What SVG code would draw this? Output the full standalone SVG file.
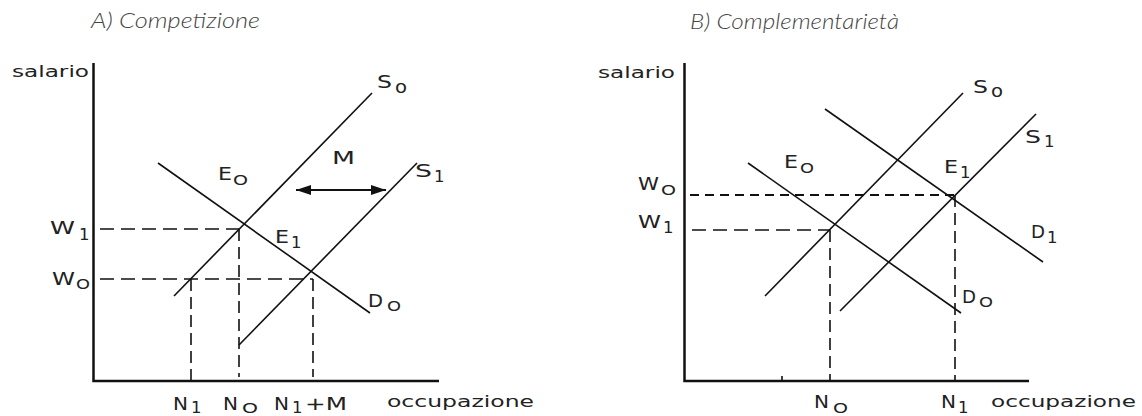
<svg xmlns="http://www.w3.org/2000/svg" width="1142" height="416" viewBox="0 0 1142 416">
<style>
.title{font-family:Lato,"Open Sans",sans-serif;font-weight:300;font-style:italic;font-size:22px;fill:#444}
.t{font-family:"DejaVu Sans",sans-serif;fill:#222}
.m{font-size:18px}
.o{font-size:14.5px}
.d{font-size:16.5px}
.w{font-size:16.5px}
.ax{stroke:#111;stroke-width:2.5;fill:none}
.cv{stroke:#111;stroke-width:1.6;fill:none}
.dsh{stroke:#111;stroke-width:1.6;fill:none;stroke-dasharray:14 7}
.dshv{stroke:#111;stroke-width:1.6;fill:none;stroke-dasharray:12 6}
.dsh2{stroke:#111;stroke-width:1.8;fill:none;stroke-dasharray:9 6}
</style>
<defs>
<marker id="ah" markerUnits="userSpaceOnUse" markerWidth="16" markerHeight="11" refX="15" refY="5" orient="auto-start-reverse">
<path d="M0,0 L15,5 L0,10 z" fill="#111"/>
</marker>
</defs>

<g id="panel-a">
<text class="title" x="91" y="28" textLength="169" lengthAdjust="spacingAndGlyphs">A) Competizione</text>
<g id="a-axes">
<path class="ax" d="M93.5 63 V381 H439"/>
</g>
<g id="a-connectors">
<path class="cv" d="M158 163 L370 313"/>
<path class="cv" d="M174 296 L372 93"/>
<path class="cv" d="M239 345 L417 163"/>
<path class="dsh" d="M100 229 H239"/>
<path class="dsh" d="M100 279 H313"/>
<path class="dshv" d="M191 279 V381"/>
<path class="dshv" d="M239 229 V377"/>
<path class="dshv" d="M313 279 V377"/>
<path d="M296 190 H386" stroke="#111" stroke-width="2" marker-start="url(#ah)" marker-end="url(#ah)"/>
</g>
<g id="a-labels">
<text class="t w" x="12" y="77" textLength="77" lengthAdjust="spacingAndGlyphs">salario</text>
<text class="t w" x="387" y="407" textLength="147" lengthAdjust="spacingAndGlyphs">occupazione</text>
<text class="t m" x="377" y="88" textLength="15" lengthAdjust="spacingAndGlyphs">S</text>
<text class="t m" x="395" y="93" textLength="12" lengthAdjust="spacingAndGlyphs">o</text>
<text class="t m" x="332" y="164" textLength="23" lengthAdjust="spacingAndGlyphs">M</text>
<text class="t m" x="415" y="177" textLength="17" lengthAdjust="spacingAndGlyphs">S</text>
<text class="t d" x="434" y="182">1</text>
<text class="t m" x="218" y="180" textLength="14" lengthAdjust="spacingAndGlyphs">E</text>
<text class="t o" x="233" y="185" textLength="15" lengthAdjust="spacingAndGlyphs">O</text>
<text class="t m" x="275" y="243" textLength="14" lengthAdjust="spacingAndGlyphs">E</text>
<text class="t d" x="291" y="248">1</text>
<text class="t m" x="50" y="234" textLength="25" lengthAdjust="spacingAndGlyphs">W</text>
<text class="t d" x="79" y="240">1</text>
<text class="t m" x="52" y="285" textLength="23" lengthAdjust="spacingAndGlyphs">W</text>
<text class="t o" x="76" y="289" textLength="14" lengthAdjust="spacingAndGlyphs">O</text>
<text class="t m" x="368" y="307" textLength="15" lengthAdjust="spacingAndGlyphs">D</text>
<text class="t o" x="387" y="311" textLength="14" lengthAdjust="spacingAndGlyphs">O</text>
<text class="t m" x="173" y="410" textLength="15" lengthAdjust="spacingAndGlyphs">N</text>
<text class="t d" x="191" y="413">1</text>
<text class="t m" x="223" y="410" textLength="15" lengthAdjust="spacingAndGlyphs">N</text>
<text class="t o" x="242" y="413" textLength="16" lengthAdjust="spacingAndGlyphs">O</text>
<text class="t m" x="274" y="410" textLength="15" lengthAdjust="spacingAndGlyphs">N</text>
<text class="t d" x="292" y="413">1</text>
<text class="t m" x="305" y="410" textLength="42" lengthAdjust="spacingAndGlyphs">+M</text>
</g>
</g>

<g id="panel-b">
<text class="title" x="690" y="29" textLength="209" lengthAdjust="spacingAndGlyphs">B) Complementarietà</text>
<g id="b-axes">
<path class="ax" d="M684.5 63 V381 H1029"/>
<path class="cv" d="M782 376 V381"/>
</g>
<g id="b-connectors">
<path class="cv" d="M765 296 L963 93"/>
<path class="cv" d="M840 311 L1036 114"/>
<path class="cv" d="M825 109 L1043 262"/>
<path class="cv" d="M748 163 L961 313"/>
<path class="dsh2" d="M690 195 H955"/>
<path class="dsh" d="M692 230 H830"/>
<path class="dshv" d="M830 230 V381"/>
<path class="dshv" d="M955 195 V381"/>
</g>
<g id="b-labels">
<text class="t w" x="598" y="78" textLength="77" lengthAdjust="spacingAndGlyphs">salario</text>
<text class="t w" x="991" y="407" textLength="145" lengthAdjust="spacingAndGlyphs">occupazione</text>
<text class="t m" x="638" y="190" textLength="21" lengthAdjust="spacingAndGlyphs">W</text>
<text class="t o" x="661" y="195" textLength="15" lengthAdjust="spacingAndGlyphs">O</text>
<text class="t m" x="638" y="228" textLength="23" lengthAdjust="spacingAndGlyphs">W</text>
<text class="t d" x="663" y="233">1</text>
<text class="t m" x="784" y="168" textLength="14" lengthAdjust="spacingAndGlyphs">E</text>
<text class="t o" x="800" y="173" textLength="14" lengthAdjust="spacingAndGlyphs">O</text>
<text class="t m" x="973" y="93" textLength="15" lengthAdjust="spacingAndGlyphs">S</text>
<text class="t m" x="991" y="97" textLength="12" lengthAdjust="spacingAndGlyphs">o</text>
<text class="t m" x="1025" y="143" textLength="16" lengthAdjust="spacingAndGlyphs">S</text>
<text class="t d" x="1044" y="147">1</text>
<text class="t m" x="944" y="173" textLength="14" lengthAdjust="spacingAndGlyphs">E</text>
<text class="t d" x="960" y="178">1</text>
<text class="t m" x="1031" y="238" textLength="14" lengthAdjust="spacingAndGlyphs">D</text>
<text class="t d" x="1047" y="243">1</text>
<text class="t m" x="962" y="303" textLength="14" lengthAdjust="spacingAndGlyphs">D</text>
<text class="t o" x="979" y="307" textLength="14" lengthAdjust="spacingAndGlyphs">O</text>
<text class="t m" x="814" y="408" textLength="15" lengthAdjust="spacingAndGlyphs">N</text>
<text class="t o" x="833" y="413" textLength="15" lengthAdjust="spacingAndGlyphs">O</text>
<text class="t m" x="941" y="408" textLength="15" lengthAdjust="spacingAndGlyphs">N</text>
<text class="t d" x="958" y="413">1</text>
</g>
</g>
</svg>
